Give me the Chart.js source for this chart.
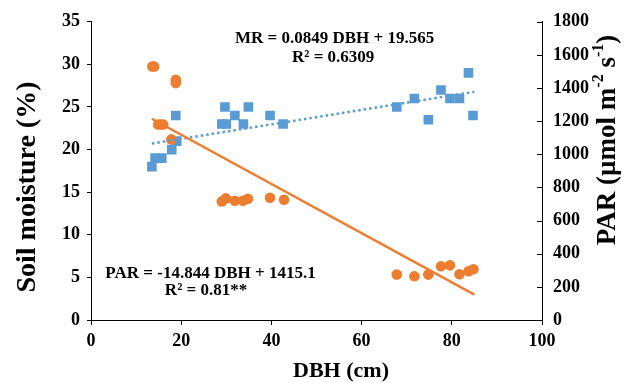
<!DOCTYPE html>
<html>
<head>
<meta charset="utf-8">
<script src="https://cdn.jsdelivr.net/npm/chart.js@4.4.1/dist/chart.umd.min.js"></script>
<style>
  html, body { margin: 0; padding: 0; background: #fff; }
  #wrap { width: 625px; height: 383px; }
</style>
</head>
<body>
<div id="wrap"><canvas id="chart"></canvas></div>
<script>
// soil moisture (%) vs DBH (cm)
const moistureDbh = [13.5, 14.2, 15.7, 17.9, 19, 18.8, 29, 30, 29.7, 31.9, 33.8, 34.9, 39.7, 42.6, 67.8, 71.7, 74.8, 77.6, 79.6, 81.7, 83.7, 84.7];
const moisture = [18, 19, 19, 20, 21, 24, 23, 23, 25, 24, 23, 25, 24, 23, 25, 26, 23.5, 27, 26, 26, 29, 24];

// PAR (umol m-2 s-1) vs DBH (cm)
const parDbh = [13.6, 14, 18.8, 18.8, 14.9, 15.5, 16, 17.8, 29, 29.9, 31.9, 33.7, 34.8, 39.7, 42.8, 67.8, 71.7, 74.8, 77.6, 79.6, 81.7, 83.7, 84.8];
const par = [1530, 1530, 1450, 1430, 1180, 1180, 1180, 1090, 716, 734, 720, 720, 732, 738, 726, 274, 264, 274, 324, 330, 276, 294, 306];

// trendlines as printed on the chart
const mrFit = { slope: 0.0849, intercept: 19.565 };
const parFit = { slope: -14.844, intercept: 1415.1 };
const fitRange = [13.5, 85];

const xTicks = [0, 20, 40, 60, 80, 100];
const moistureTicks = [0, 5, 10, 15, 20, 25, 30, 35];
const parTicks = [0, 200, 400, 600, 800, 1000, 1200, 1400, 1600, 1800];

const blue = "#5B9BD5";
const orange = "#ED7D31";
const serif = "'Liberation Serif', 'Times New Roman', serif";

const pts = (xs, ys) => xs.map((x, i) => ({ x: x, y: ys[i] }));
const fitLine = (f) => fitRange.map((x) => ({ x: x, y: f.slope * x + f.intercept }));
const plain = (v) => String(v);

// extra drawing: inner ticks on right axis, axis titles, equations
const extras = {
    id: "extras",
    afterDraw(chart) {
        const ctx = chart.ctx;
        const area = chart.chartArea;
        const xs = chart.scales.x;
        const ys = chart.scales.y;
        const y2 = chart.scales.y2;
        ctx.save();
        ctx.strokeStyle = "#000";
        ctx.lineWidth = 1;
        parTicks.forEach((v) => {
            const py = Math.round(y2.getPixelForValue(v)) + 0.5;
            ctx.beginPath();
            ctx.moveTo(area.right - 5, py);
            ctx.lineTo(area.right, py);
            ctx.stroke();
        });

        ctx.fillStyle = "#000";
        ctx.textAlign = "center";
        ctx.textBaseline = "middle";

        // equations
        ctx.font = "bold 17px " + serif;
        ctx.fillText("MR = 0.0849 DBH + 19.565", xs.getPixelForValue(54), ys.getPixelForValue(33));
        ctx.fillText("R² = 0.6309", xs.getPixelForValue(53.7), ys.getPixelForValue(30.8));
        ctx.fillText("PAR = -14.844 DBH + 1415.1", xs.getPixelForValue(26.5), ys.getPixelForValue(5.5));
        ctx.fillText("R² = 0.81**", xs.getPixelForValue(25.5), ys.getPixelForValue(3.5));

        // x title
        ctx.font = "bold 22px " + serif;
        ctx.fillText("DBH (cm)", 341, 371);

        // left title
        ctx.save();
        ctx.font = "bold 28px " + serif;
        ctx.translate(28, 187);
        ctx.rotate(-Math.PI / 2);
        ctx.fillText("Soil moisture (%)", 0, 0);
        ctx.restore();

        // right title with superscripts
        ctx.save();
        ctx.translate(608, 140);
        ctx.rotate(-Math.PI / 2);
        const big = "bold 27px " + serif;
        const sup = "bold 16px " + serif;
        const parts = [["PAR (µmol m", big, 0], ["-2", sup, -9], [" s", big, 0], ["-1", sup, -9], [")", big, 0]];
        let total = 0;
        parts.forEach((p) => { ctx.font = p[1]; total += ctx.measureText(p[0]).width; });
        let cx = -total / 2;
        ctx.textAlign = "left";
        parts.forEach((p) => {
            ctx.font = p[1];
            ctx.fillText(p[0], cx, p[2]);
            cx += ctx.measureText(p[0]).width;
        });
        ctx.restore();

        ctx.restore();
    },
};

const canvas = document.getElementById("chart");

const chart = new Chart(canvas, {
    type: "scatter",
    data: {
        datasets: [
            {
                label: "PAR trend",
                data: fitLine(parFit),
                yAxisID: "y2",
                showLine: true,
                borderColor: orange,
                borderWidth: 2.5,
                pointRadius: 0,
            },
            {
                label: "MR trend",
                data: fitLine(mrFit),
                yAxisID: "y",
                showLine: true,
                borderColor: blue,
                borderWidth: 2.5,
                borderDash: [2.5, 3],
                pointRadius: 0,
            },
            {
                label: "PAR",
                data: pts(parDbh, par),
                yAxisID: "y2",
                backgroundColor: orange,
                borderWidth: 0,
                pointStyle: "circle",
                pointRadius: 5.3,
            },
            {
                label: "MR",
                data: pts(moistureDbh, moisture),
                yAxisID: "y",
                backgroundColor: blue,
                borderWidth: 0,
                pointStyle: "rect",
                pointRadius: 6.8,
            },
        ],
    },
    options: {
        responsive: true,
        maintainAspectRatio: false,
        animation: false,
        events: [],
        layout: { padding: { top: 20, right: 0, left: 0, bottom: 0 } },
        plugins: { legend: { display: false }, tooltip: { enabled: false } },
        scales: {
            x: {
                type: "linear",
                min: 0,
                max: 100,
                afterBuildTicks: (s) => { s.ticks = xTicks.map((v) => ({ value: v })); },
                afterFit: (s) => { s.height = 63; },
                border: { color: "#000", width: 1 },
                grid: { drawOnChartArea: false, color: "#000", tickLength: 5 },
                ticks: { color: "#000", padding: 6, maxRotation: 0, callback: plain, font: { family: serif, size: 18, weight: "bold" } },
            },
            y: {
                position: "left",
                min: 0,
                max: 35,
                afterBuildTicks: (s) => { s.ticks = moistureTicks.map((v) => ({ value: v })); },
                afterFit: (s) => { s.width = 91; },
                border: { color: "#000", width: 1 },
                grid: { drawOnChartArea: false, color: "#000", tickLength: 4 },
                ticks: { color: "#000", padding: 7, callback: plain, font: { family: serif, size: 18, weight: "bold" } },
            },
            y2: {
                position: "right",
                min: 0,
                max: 1800,
                afterBuildTicks: (s) => { s.ticks = parTicks.map((v) => ({ value: v })); },
                afterFit: (s) => { s.width = 83; },
                border: { color: "#000", width: 1 },
                grid: { drawOnChartArea: false, drawTicks: false },
                ticks: { color: "#000", padding: 11, callback: plain, font: { family: serif, size: 18, weight: "bold" } },
            },
        },
    },
    plugins: [extras],
});
</script>
</body>
</html>
